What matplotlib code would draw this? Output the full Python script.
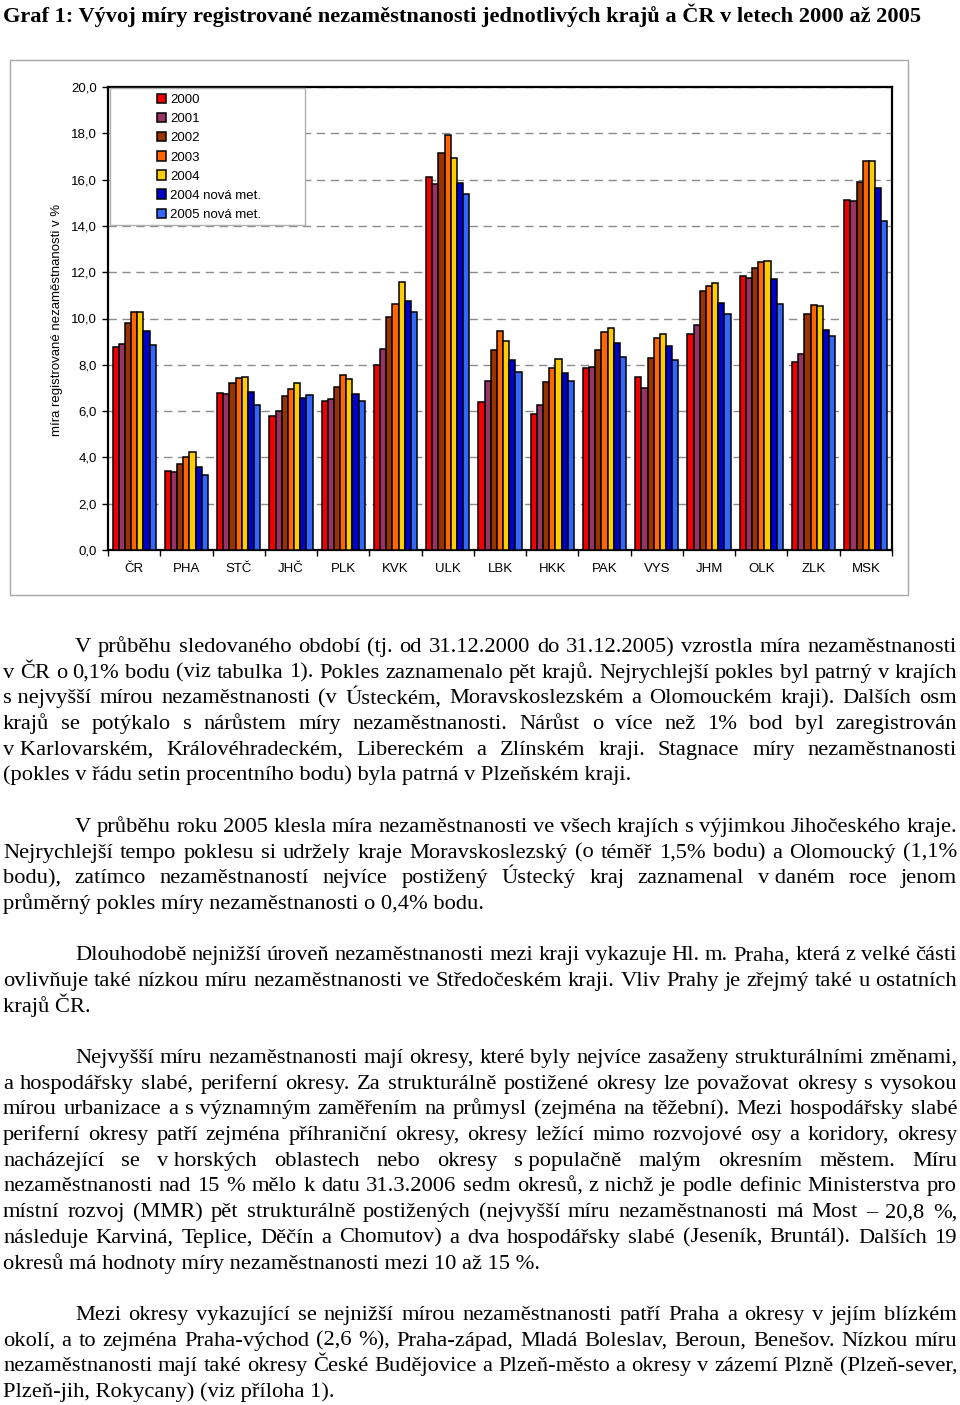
import numpy as np
import matplotlib.pyplot as plt
from matplotlib.patches import Rectangle

W, H = 960, 1405

regions = ["ČR", "PHA", "STČ", "JHČ", "PLK", "KVK", "ULK", "LBK",
           "HKK", "PAK", "VYS", "JHM", "OLK", "ZLK", "MSK"]
series_labels = ["2000", "2001", "2002", "2003", "2004",
                 "2004 nová met.", "2005 nová met."]

rate_2000 = [8.76, 3.40, 6.80, 5.79, 6.45, 8.00, 16.13, 6.41, 5.86, 7.85, 7.46, 9.33, 11.85, 8.14, 15.12]
rate_2001 = [8.88, 3.37, 6.74, 6.02, 6.51, 8.68, 15.81, 7.31, 6.26, 7.90, 7.01, 9.71, 11.76, 8.47, 15.09]
rate_2002 = [9.80, 3.72, 7.20, 6.65, 7.04, 10.05, 17.13, 8.65, 7.27, 8.64, 8.29, 11.17, 12.18, 10.19, 15.88]
rate_2003 = [10.30, 4.00, 7.43, 6.94, 7.57, 10.61, 17.93, 9.45, 7.86, 9.40, 9.17, 11.42, 12.46, 10.60, 16.82]
rate_2004 = [10.30, 4.22, 7.47, 7.21, 7.39, 11.58, 16.92, 9.03, 8.25, 9.59, 9.34, 11.52, 12.50, 10.54, 16.82]
rate_2004_new = [9.47, 3.57, 6.83, 6.57, 6.72, 10.74, 15.84, 8.19, 7.66, 8.93, 8.81, 10.67, 11.71, 9.52, 15.65]
rate_2005_new = [8.87, 3.22, 6.25, 6.68, 6.42, 10.27, 15.39, 7.70, 7.30, 8.34, 8.21, 10.18, 10.64, 9.24, 14.23]

colors = ["#F00000", "#993366", "#993300", "#FF6600", "#FFCC00", "#0000CC", "#3366FF"]

title = "Graf 1: Vývoj míry registrované nezaměstnanosti jednotlivých krajů a ČR v letech 2000 až 2005"
ylabel = "míra registrované nezaměstnanosti v %"

NB = "\u00a0"
paragraphs = [
    ["V průběhu sledovaného období (tj. od 31.12.2000 do 31.12.2005) vzrostla míra nezaměstnanosti",
     "v ČR o 0,1% bodu (viz tabulka 1). Pokles zaznamenalo pět krajů. Nejrychlejší pokles byl patrný v krajích",
     f"s{NB}nejvyšší mírou nezaměstnanosti (v Ústeckém, Moravskoslezském a Olomouckém kraji). Dalších osm",
     "krajů se potýkalo s nárůstem míry nezaměstnanosti. Nárůst o více než 1% bod byl zaregistrován",
     f"v{NB}Karlovarském, Královéhradeckém, Libereckém a Zlínském kraji. Stagnace míry nezaměstnanosti",
     "(pokles v řádu setin procentního bodu) byla patrná v Plzeňském kraji."],
    ["V průběhu roku 2005 klesla míra nezaměstnanosti ve všech krajích s výjimkou Jihočeského kraje.",
     "Nejrychlejší tempo poklesu si udržely kraje Moravskoslezský (o téměř 1,5% bodu) a Olomoucký (1,1%",
     f"bodu), zatímco nezaměstnaností nejvíce postižený Ústecký kraj zaznamenal v{NB}daném roce jenom",
     "průměrný pokles míry nezaměstnanosti o 0,4% bodu."],
    ["Dlouhodobě nejnižší úroveň nezaměstnanosti mezi kraji vykazuje Hl. m. Praha, která z velké části",
     "ovlivňuje také nízkou míru nezaměstnanosti ve Středočeském kraji. Vliv Prahy je zřejmý také u ostatních",
     "krajů ČR."],
    ["Nejvyšší míru nezaměstnanosti mají okresy, které byly nejvíce zasaženy strukturálními změnami,",
     "a hospodářsky slabé, periferní okresy. Za strukturálně postižené okresy lze považovat okresy s vysokou",
     f"mírou urbanizace a s{NB}významným zaměřením na průmysl (zejména na těžební). Mezi hospodářsky slabé",
     "periferní okresy patří zejména příhraniční okresy, okresy ležící mimo rozvojové osy a koridory, okresy",
     f"nacházející se v{NB}horských oblastech nebo okresy s{NB}populačně malým okresním městem. Míru",
     f"nezaměstnanosti nad 15 % mělo k datu 31.3.2006 sedm okresů, z{NB}nichž je podle definic Ministerstva pro",
     "místní rozvoj (MMR) pět strukturálně postižených (nejvyšší míru nezaměstnanosti má Most – 20,8 %,",
     "následuje Karviná, Teplice, Děčín a Chomutov) a dva hospodářsky slabé (Jeseník, Bruntál). Dalších 19",
     "okresů má hodnoty míry nezaměstnanosti mezi 10 až 15 %."],
    ["Mezi okresy vykazující se nejnižší mírou nezaměstnanosti patří Praha a okresy v jejím blízkém",
     "okolí, a to zejména Praha-východ (2,6 %), Praha-západ, Mladá Boleslav, Beroun, Benešov. Nízkou míru",
     "nezaměstnanosti mají také okresy České Budějovice a Plzeň-město a okresy v zázemí Plzně (Plzeň-sever,",
     "Plzeň-jih, Rokycany) (viz příloha 1)."],
]

sans = "Liberation Sans"
serif = "Liberation Serif"
body_size = 16.2

fig = plt.figure(figsize=(W / 100, H / 100), dpi=100)
fig.patch.set_facecolor("white")

# chart frame
fig.add_artist(Rectangle((10 / W, 1 - 595 / H), 898 / W, 535 / H, transform=fig.transFigure,
                         facecolor="none", edgecolor="#A8A8A8", linewidth=1.0))

ax = fig.add_axes([108 / W, 1 - 550 / H, 784 / W, 463 / H])
series = [rate_2000, rate_2001, rate_2002, rate_2003, rate_2004, rate_2004_new, rate_2005_new]
x = np.arange(len(regions))
bw = 0.118
for i, (vals, col, lab) in enumerate(zip(series, colors, series_labels)):
    ax.bar(x + (i - 3) * bw, vals, bw, color=col, edgecolor="black",
           linewidth=1.1, label=lab, zorder=3)

ax.set_xlim(-0.5, len(regions) - 0.5)
ax.set_ylim(0, 20)
ax.set_yticks(np.arange(0, 21, 2))
ax.set_yticklabels([f"{v:.1f}".replace(".", ",") for v in np.arange(0, 21, 2)],
                   fontsize=9.5, family=sans)
ax.set_xticks(np.arange(-0.5, len(regions), 1))
ax.set_xticklabels([])
ax.set_xticks(x, minor=True)
ax.set_xticklabels(regions, minor=True, fontsize=9.5, family=sans)
ax.tick_params(axis="x", which="minor", length=0, pad=9)
ax.tick_params(axis="x", which="major", length=4, width=1, direction="out")
ax.tick_params(axis="y", length=4, width=1, direction="out", pad=4)
ax.yaxis.grid(True, color="#8C8C8C", linestyle=(0, (6, 4)), linewidth=1.0)
ax.set_axisbelow(True)
for s in ax.spines.values():
    s.set_linewidth(1.6)
    s.set_color("black")
ax.set_zorder(1)

fig.text(57 / W, 1 - 320 / H, ylabel, rotation=90, ha="center", va="center",
         fontsize=9.5, family=sans)

# legend with its own box
ax.add_patch(Rectangle((2 / 784, (550 - 225) / 463), 195 / 784, 137 / 463,
                       transform=ax.transAxes, facecolor="white", edgecolor="#B0B0B0",
                       linewidth=1.0, zorder=4, clip_on=False))
leg = ax.legend(loc="upper left", bbox_to_anchor=((157 - 108) / 784, (550 - 94) / 463),
                frameon=False, borderpad=0, borderaxespad=0, handlelength=0.7,
                handleheight=0.7, handletextpad=0.3, labelspacing=0.52,
                prop={"family": sans, "size": 9.5})
leg.set_zorder(5)

fig.text(3 / W, 1 - 22 / H, title, ha="left", va="baseline", fontsize=16.1,
         fontweight="bold", family=serif)

# justified body text
renderer = fig.canvas.get_renderer()
left, right, indent = 3, 957, 75
pitch = 25.69
line_no = 0
for para in paragraphs:
    for j, line in enumerate(para):
        y = 645 + line_no * pitch + 7
        x0 = indent if j == 0 else left
        last = j == len(para) - 1
        if last:
            fig.text(x0 / W, 1 - y / H, line, ha="left", va="baseline",
                     fontsize=body_size, family=serif)
        else:
            words = line.split(" ")
            objs = [fig.text(0, 0, w, ha="left", va="baseline", fontsize=body_size, family=serif)
                    for w in words]
            widths = [o.get_window_extent(renderer).width for o in objs]
            gap = (right - x0 - sum(widths)) / (len(words) - 1)
            xp = x0
            for o, w in zip(objs, widths):
                o.set_position((xp / W, 1 - y / H))
                xp += w + gap
        line_no += 1
    line_no += 1

fig.savefig("out.png", dpi=100)
